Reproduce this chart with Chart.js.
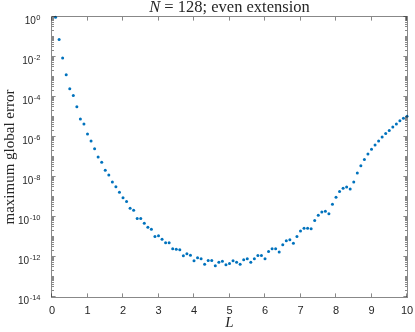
<!DOCTYPE html>
<html>
<head>
<meta charset="utf-8">
<script src="https://cdn.jsdelivr.net/npm/chart.js@4.4.1/dist/chart.umd.min.js"></script>
<style>
  html, body { margin: 0; padding: 0; background: #ffffff; }
  #wrap { width: 415px; height: 332px; }
</style>
</head>
<body>
<div id="wrap"><canvas id="c" width="415" height="332"></canvas></div>
<script>
// ---- data ----
const titleText = ['N', ' = 128; even extension'];
const xLabel = 'L';
const yLabel = 'maximum global error';

const L = [0.1,0.2,0.3,0.4,0.5,0.6,0.7,0.8,0.9,1.0,
           1.1,1.2,1.3,1.4,1.5,1.6,1.7,1.8,1.9,2.0,
           2.1,2.2,2.3,2.4,2.5,2.6,2.7,2.8,2.9,3.0,
           3.1,3.2,3.3,3.4,3.5,3.6,3.7,3.8,3.9,4.0,
           4.1,4.2,4.3,4.4,4.5,4.6,4.7,4.8,4.9,5.0,
           5.1,5.2,5.3,5.4,5.5,5.6,5.7,5.8,5.9,6.0,
           6.1,6.2,6.3,6.4,6.5,6.6,6.7,6.8,6.9,7.0,
           7.1,7.2,7.3,7.4,7.5,7.6,7.7,7.8,7.9,8.0,
           8.1,8.2,8.3,8.4,8.5,8.6,8.7,8.8,8.9,9.0,
           9.1,9.2,9.3,9.4,9.5,9.6,9.7,9.8,9.9,10.0];

const maxErr = [9.6e-1,7.4e-2,8.9e-3,1.3e-3,2.6e-4,1.2e-4,3.3e-5,7.9e-6,4.5e-6,1.4e-6,
                6.3e-7,2.6e-7,1.0e-7,5.4e-8,2.2e-8,1.26e-8,5.6e-9,3.3e-9,1.74e-9,9.3e-10,
                5.9e-10,2.75e-10,2.2e-10,8.3e-11,8.3e-11,4.9e-11,3.1e-11,2.45e-11,1.05e-11,1.15e-11,
                7.8e-12,5.1e-12,5.1e-12,2.6e-12,2.45e-12,2.3e-12,1.15e-12,1.45e-12,1.23e-12,6.5e-13,
                9.1e-13,8.1e-13,4.4e-13,6.6e-13,6.6e-13,3.6e-13,5.5e-13,6.2e-13,4.1e-13,4.7e-13,
                6.5e-13,5.5e-13,4.4e-13,7.2e-13,8.1e-13,5.5e-13,8.1e-13,1.2e-12,1.2e-12,8.1e-13,
                1.86e-12,2.6e-12,2.6e-12,1.8e-12,4.1e-12,6.5e-12,7.2e-12,4.9e-12,1.05e-11,2.0e-11,
                2.75e-11,2.75e-11,2.6e-11,6.6e-11,1.23e-10,1.8e-10,1.95e-10,1.45e-10,4.4e-10,9.8e-10,
                1.86e-9,2.7e-9,3.2e-9,2.5e-9,5.6e-9,1.6e-8,3.7e-8,7.4e-8,1.4e-7,2.45e-7,
                4.0e-7,6.3e-7,1.0e-6,1.5e-6,2.1e-6,3.2e-6,4.5e-6,6.5e-6,8.7e-6,1.1e-5];

const xTicks = [0,1,2,3,4,5,6,7,8,9,10];
const yTickExponents = [0,-2,-4,-6,-8,-10,-12,-14];
const yMinorExponents = [-1,-3,-5,-7,-9,-11,-13];
const yMin = 1e-14, yMax = 1e0;

// ---- styles ----
const AXIS_COLOR = 'rgba(38,38,38,0.55)';
const TEXT_COLOR = '#262626';
const SERIF = '"Liberation Serif", "DejaVu Serif", serif';
const SANS = '"Liberation Sans", Arial, sans-serif';
const TITLE_SIZE = 16.5;

const points = L.map((x, i) => ({x: x, y: maxErr[i]}));

const matlabAxes = {
  id: 'matlabAxes',
  afterDraw(chart) {
    const ctx = chart.ctx;
    const a = chart.chartArea;
    const xs = chart.scales.x, ys = chart.scales.y;
    ctx.save();
    // box
    ctx.strokeStyle = AXIS_COLOR;
    ctx.lineWidth = 1;
    ctx.strokeRect(a.left - 0.5, a.top - 0.5, a.right - a.left + 1, a.bottom - a.top + 1);
    // x ticks (inward, bottom and top)
    const major = 3.6, minor = 2;
    ctx.beginPath();
    xTicks.forEach(t => {
      const px = Math.round(xs.getPixelForValue(t)) - 0.5;
      ctx.moveTo(px, a.bottom); ctx.lineTo(px, a.bottom - major);
      ctx.moveTo(px, a.top); ctx.lineTo(px, a.top + major);
    });
    // y ticks
    const drawY = (v, len) => {
      const py = Math.round(ys.getPixelForValue(v)) - 0.5;
      ctx.moveTo(a.left, py); ctx.lineTo(a.left + len, py);
      ctx.moveTo(a.right, py); ctx.lineTo(a.right - len, py);
    };
    yTickExponents.forEach(e => drawY(Math.pow(10, e), major));
    yMinorExponents.forEach(e => drawY(Math.pow(10, e), minor));
    for (let e = -14; e < 0; e++) {
      for (let m = 2; m <= 9; m++) drawY(m * Math.pow(10, e), minor);
    }
    ctx.stroke();

    // y tick labels 10^e
    ctx.fillStyle = TEXT_COLOR;
    ctx.textBaseline = 'alphabetic';
    ctx.textAlign = 'left';
    const rightEdge = a.left - 11.5;
    yTickExponents.forEach(e => {
      const py = ys.getPixelForValue(Math.pow(10, e));
      const expStr = e === 0 ? '0' : '-' + String(-e);
      ctx.font = '7.5px ' + SANS;
      const ew = ctx.measureText(expStr).width;
      ctx.font = '10px ' + SANS;
      const bw = ctx.measureText('10').width;
      const x0 = rightEdge - ew - bw - 0.5;
      ctx.fillText('10', x0, py + 7);
      ctx.font = '7.5px ' + SANS;
      ctx.fillText(expStr, x0 + bw + 0.5, py + 2.5);
    });

    // title with italic N
    ctx.font = 'italic ' + TITLE_SIZE + 'px ' + SERIF;
    const w1 = ctx.measureText(titleText[0]).width;
    ctx.font = TITLE_SIZE + 'px ' + SERIF;
    const w2 = ctx.measureText(titleText[1]).width;
    const cx = (a.left + a.right) / 2;
    const tx = cx - (w1 + w2) / 2;
    ctx.font = 'italic ' + TITLE_SIZE + 'px ' + SERIF;
    ctx.fillText(titleText[0], tx, 12);
    ctx.font = TITLE_SIZE + 'px ' + SERIF;
    ctx.fillText(titleText[1], tx + w1, 12);
    ctx.restore();
  }
};

new Chart(document.getElementById('c'), {
  type: 'scatter',
  data: {
    datasets: [{
      data: points,
      backgroundColor: '#0072BD',
      borderWidth: 0,
      pointRadius: 1.5,
      pointHoverRadius: 1.5,
      pointStyle: 'circle',
      clip: false
    }]
  },
  options: {
    responsive: false,
    animation: false,
    devicePixelRatio: 1,
    layout: { padding: { top: 17, right: 8, left: 0, bottom: 0 } },
    plugins: { legend: { display: false }, tooltip: { enabled: false }, title: { display: false } },
    scales: {
      x: {
        type: 'linear',
        min: 0, max: 10,
        afterFit(s) { s.height = 35; s.paddingLeft = 0; s.paddingRight = 0; },
        afterBuildTicks(s) { s.ticks = xTicks.map(v => ({value: v})); },
        grid: { display: false, drawTicks: false },
        border: { display: false },
        ticks: {
          color: TEXT_COLOR,
          font: { family: SANS, size: 11 },
          padding: 7,
          maxRotation: 0,
          callback: v => String(v)
        },
        title: {
          display: true,
          text: xLabel,
          color: TEXT_COLOR,
          font: { family: SERIF, size: 15, style: 'italic' },
          padding: { top: 0, bottom: 0 }
        }
      },
      y: {
        type: 'logarithmic',
        min: yMin, max: yMax,
        afterFit(s) { s.width = 52; s.paddingTop = 0; s.paddingBottom = 0; },
        grid: { display: false, drawTicks: false },
        border: { display: false },
        ticks: { display: false },
        title: {
          display: true,
          text: yLabel,
          color: TEXT_COLOR,
          font: { family: SERIF, size: 15 },
          padding: { top: 1, bottom: 0 }
        }
      }
    }
  },
  plugins: [matlabAxes]
});
</script>
</body>
</html>
